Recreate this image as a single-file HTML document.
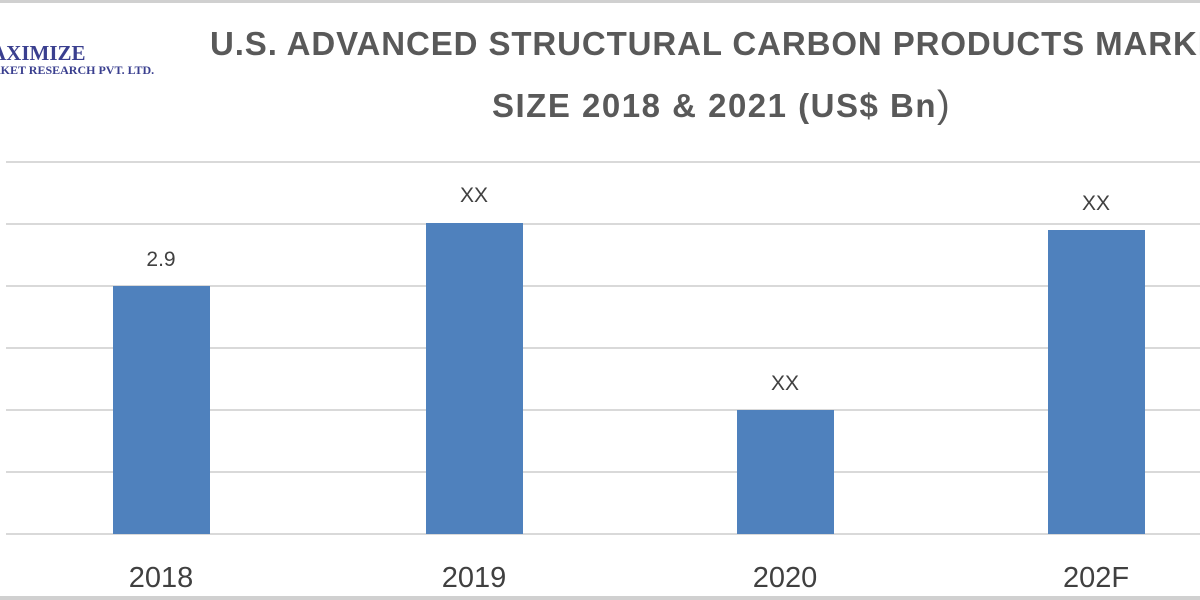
<!DOCTYPE html>
<html><head><style>
body{margin:0;width:1200px;height:600px;overflow:hidden;background:#fff;position:relative;font-family:"Liberation Sans",sans-serif}
.a{position:absolute}
.g{position:absolute;left:6px;width:1194px;height:2px;background:#d9d9d9}
.b{position:absolute;background:#4f81bd;width:97px}
.v{position:absolute;width:120px;text-align:center;font-size:21px;color:#404040}
.x{position:absolute;width:200px;text-align:center;font-size:29px;color:#404040;top:562px}
.t{position:absolute;font-weight:bold;font-size:33px;color:#595959;white-space:nowrap}
</style></head><body>
<div class="a" style="left:0;top:0;width:1200px;height:3px;background:#d0d0d0"></div>
<div class="a" style="left:0;top:596px;width:1200px;height:4px;background:#d0d0d0"></div>
<div class="a" style="left:-9px;top:41px;font-family:'Liberation Serif',serif;font-weight:bold;font-size:21px;color:#3a3f8f">AXIMIZE</div>
<div class="a" style="left:-8px;top:63px;font-family:'Liberation Serif',serif;font-weight:bold;font-size:12px;color:#3a3f8f">RKET RESEARCH PVT. LTD.</div>
<div class="t" style="left:210px;top:25px;letter-spacing:0.9px">U.S. ADVANCED STRUCTURAL CARBON PRODUCTS MARKET</div>
<div class="t" style="left:492px;top:84px;letter-spacing:1.5px">SIZE 2018 &amp; 2021 (US$ Bn<span style="font-weight:normal;font-size:38px">)</span></div>
<div class="g" style="top:161px"></div>
<div class="g" style="top:223px"></div>
<div class="g" style="top:285px"></div>
<div class="g" style="top:347px"></div>
<div class="g" style="top:409px"></div>
<div class="g" style="top:471px"></div>
<div class="g" style="top:533px"></div>
<div class="b" style="left:113px;top:286px;height:248px"></div>
<div class="b" style="left:426px;top:223px;height:311px"></div>
<div class="b" style="left:737px;top:410px;height:124px"></div>
<div class="b" style="left:1048px;top:230px;height:304px"></div>
<div class="v" style="left:101px;top:248px">2.9</div>
<div class="v" style="left:414px;top:184px">XX</div>
<div class="v" style="left:725px;top:372px">XX</div>
<div class="v" style="left:1036px;top:192px">XX</div>
<div class="x" style="left:61px">2018</div>
<div class="x" style="left:374px">2019</div>
<div class="x" style="left:685px">2020</div>
<div class="x" style="left:996px">202F</div>
</body></html>
